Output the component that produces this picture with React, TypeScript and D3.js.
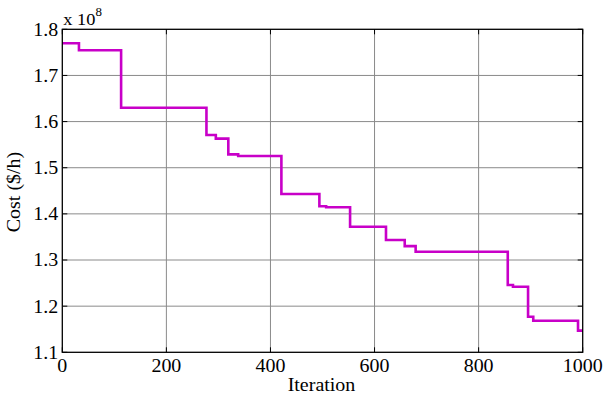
import React from "react";
import * as d3 from "d3";

const iterations = [0, 32, 32, 113, 113, 277, 277, 295, 295, 319, 319, 338, 338, 421, 421, 494, 494, 507, 507, 553, 553, 622, 622, 658, 658, 679, 679, 856, 856, 866, 866, 895, 895, 905, 905, 991, 991, 1000];
const costs = [1.7697, 1.7697, 1.7545, 1.7545, 1.630, 1.630, 1.571, 1.571, 1.563, 1.563, 1.529, 1.529, 1.5254, 1.5254, 1.443, 1.443, 1.4165, 1.4165, 1.4142, 1.4142, 1.372, 1.372, 1.3434, 1.3434, 1.330, 1.330, 1.318, 1.318, 1.2458, 1.2458, 1.2422, 1.2422, 1.177, 1.177, 1.1685, 1.1685, 1.147, 1.147];
const xTicks = [0, 200, 400, 600, 800, 1000];
const yTicks = [1.1, 1.2, 1.3, 1.4, 1.5, 1.6, 1.7, 1.8];

const fontStyle = { fontFamily: '"Liberation Serif"' };
const SX = 1.08;
const FS = 18.5;

function T({ x, y, anchor, children, rotate }: any) {
  const tr = rotate ? `translate(${x},${y}) rotate(${rotate}) scale(${SX},1)` : `translate(${x},${y}) scale(${SX},1)`;
  return (
    <text transform={tr} textAnchor={anchor || "start"} style={fontStyle} fontSize={FS} fill="#000">{children}</text>
  );
}

export default function App() {
  const W = 603, H = 397;
  const left = 62.3, right = 582.7, top = 29.3, bottom = 352.3;
  const x = d3.scaleLinear().domain([0, 1000]).range([left, right]);
  const y = d3.scaleLinear().domain([1.1, 1.8]).range([bottom, top]);
  const pts: [number, number][] = iterations.map((it, i) => [it, costs[i]]);
  const line = d3.line<[number, number]>().x(d => x(d[0])).y(d => y(d[1]));
  const tk = 5;
  return (
    <svg width={W} height={H} style={{ position: "absolute", left: 0, top: 0, background: "#fff" }}>
      <rect x={0} y={0} width={W} height={H} fill="#fff" />
      {xTicks.slice(1, -1).map(t => (
        <line key={"gx" + t} x1={x(t)} x2={x(t)} y1={top} y2={bottom} stroke="#8a8a8a" strokeWidth={1} />
      ))}
      {yTicks.slice(1, -1).map(t => (
        <line key={"gy" + t} x1={left} x2={right} y1={y(t)} y2={y(t)} stroke="#8a8a8a" strokeWidth={1} />
      ))}
      {xTicks.map(t => (
        <g key={"tx" + t}>
          <line x1={x(t)} x2={x(t)} y1={bottom} y2={bottom - tk} stroke="#000" />
          <line x1={x(t)} x2={x(t)} y1={top} y2={top + tk} stroke="#000" />
          <T x={x(t)} y={bottom + 19.5} anchor="middle">{t}</T>
        </g>
      ))}
      {yTicks.map(t => (
        <g key={"ty" + t}>
          <line x1={left} x2={left + tk} y1={y(t)} y2={y(t)} stroke="#000" />
          <line x1={right} x2={right - tk} y1={y(t)} y2={y(t)} stroke="#000" />
          <T x={left - 4} y={y(t) + 6.4} anchor="end">{t.toFixed(1)}</T>
        </g>
      ))}
      <path d={line(pts) || ""} fill="none" stroke="#c800c8" strokeWidth={2.6} strokeLinejoin="miter" />
      <rect x={left} y={top} width={right - left} height={bottom - top} fill="none" stroke="#000" strokeWidth={1.3} />
      <text transform={`translate(${left + 1},25) scale(${SX},1)`} style={fontStyle} fontSize={17} fill="#000">x 10<tspan dy={-9} fontSize={12}>8</tspan></text>
      <T x={(left + right) / 2 - 1} y={391} anchor="middle">Iteration</T>
      <T x={20} y={192} anchor="middle" rotate={-90}>Cost ($/h)</T>
    </svg>
  );
}
